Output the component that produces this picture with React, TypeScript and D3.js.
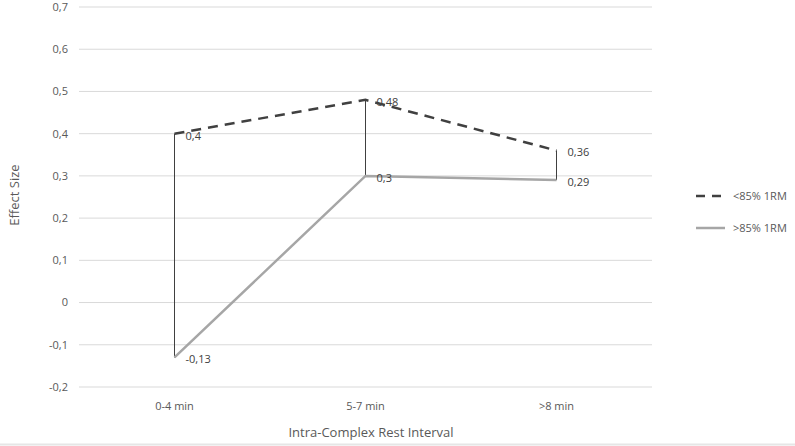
import * as d3 from "d3";

const categories = ["0-4 min", "5-7 min", ">8 min"];
const below85 = [0.4, 0.48, 0.36];
const above85 = [-0.13, 0.3, 0.29];
const yTicks = [-0.2, -0.1, 0, 0.1, 0.2, 0.3, 0.4, 0.5, 0.6, 0.7];
const seriesNames = ["<85% 1RM", ">85% 1RM"];

const W = 795;
const H = 446;
const font = "'Open Sans', 'Liberation Sans', sans-serif";
const fmt = (v: number) => (v === 0 ? "0" : String(Math.round(v * 100) / 100).replace(".", ","));

export default function App() {
  const x = d3.scalePoint<string>().domain(categories).range([79, 652]).padding(0.5);
  const y = d3.scaleLinear().domain([-0.2, 0.7]).range([387, 7]);

  const line = d3
    .line<number>()
    .x((_, i) => x(categories[i])!)
    .y((d) => y(d));

  return (
    <svg
      width={W}
      height={H}
      style={{ position: "absolute", left: 0, top: 0, background: "#fff" }}
      fontFamily={font}
    >
      {/* gridlines */}
      {yTicks.map((t) => (
        <line key={t} x1={79} x2={652} y1={y(t)} y2={y(t)} stroke="#d9d9d9" strokeWidth={1} />
      ))}
      {yTicks.map((t) => (
        <text key={"l" + t} x={68} y={y(t)} dy="0.35em" textAnchor="end" fontSize={11} fill="#595959">
          {fmt(t)}
        </text>
      ))}
      {categories.map((c) => (
        <text key={c} x={x(c)} y={410} textAnchor="middle" fontSize={11} fill="#595959">
          {c}
        </text>
      ))}

      {/* high-low lines */}
      {categories.map((c, i) => (
        <line
          key={"hl" + c}
          x1={x(c)}
          x2={x(c)}
          y1={y(below85[i])}
          y2={y(above85[i])}
          stroke="#404040"
          strokeWidth={1}
        />
      ))}

      <path d={line(above85)!} fill="none" stroke="#a6a6a6" strokeWidth={2.5} />
      <path
        d={line(below85)!}
        fill="none"
        stroke="#404040"
        strokeWidth={2.5}
        strokeDasharray="10,7"
      />

      {/* data labels */}
      {categories.map((c, i) => (
        <g key={"dl" + c}>
          <text x={x(c)! + 11} y={y(below85[i]) + 2} dy="0.35em" fontSize={11} fill="#404040">
            {fmt(below85[i])}
          </text>
          <text x={x(c)! + 11} y={y(above85[i]) + 2} dy="0.35em" fontSize={11} fill="#404040">
            {fmt(above85[i])}
          </text>
        </g>
      ))}

      {/* axis titles */}
      <text
        transform={`translate(14,195) rotate(-90)`}
        textAnchor="middle"
        dy="0.35em"
        fontSize={13}
        fill="#595959"
      >
        Effect Size
      </text>
      <text x={371} y={437} textAnchor="middle" fontSize={13} fill="#595959">
        Intra-Complex Rest Interval
      </text>

      {/* legend */}
      <line x1={696} x2={725} y1={196} y2={196} stroke="#404040" strokeWidth={2.5} strokeDasharray="9,7" />
      <text x={733} y={196} dy="0.35em" fontSize={11} fill="#595959">
        {seriesNames[0]}
      </text>
      <line x1={696} x2={725} y1={228} y2={228} stroke="#a6a6a6" strokeWidth={2.5} />
      <text x={733} y={228} dy="0.35em" fontSize={11} fill="#595959">
        {seriesNames[1]}
      </text>

      <line x1={0} x2={W} y1={444.5} y2={444.5} stroke="#e6e6e6" strokeWidth={2} />
    </svg>
  );
}
